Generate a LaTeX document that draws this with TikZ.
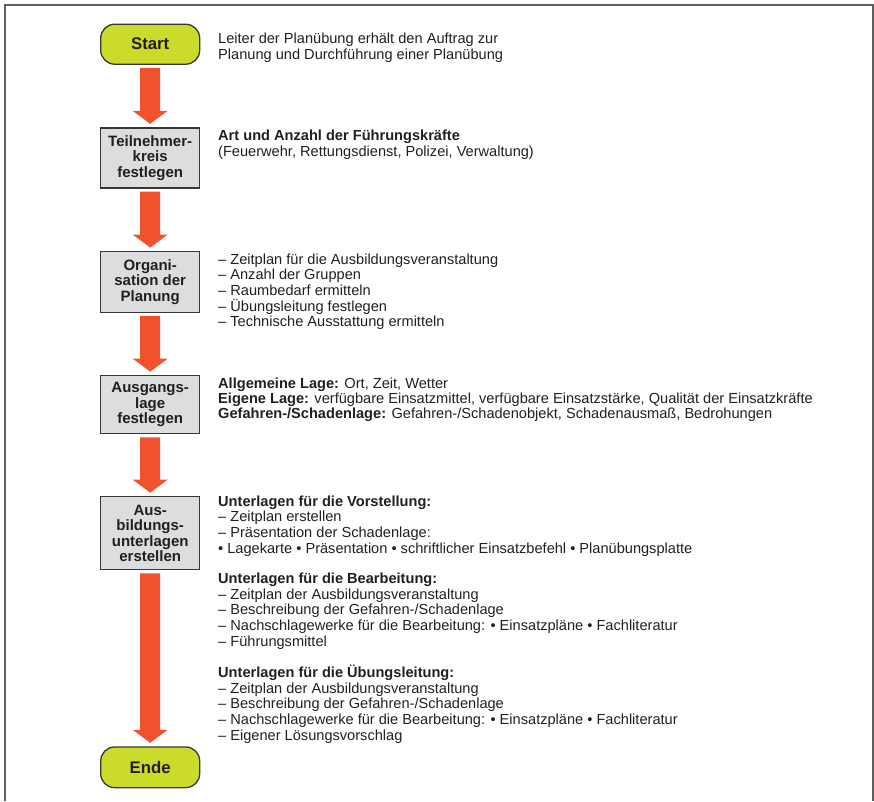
\documentclass[tikz,border=0pt]{standalone}
\usepackage{fontspec}
\setmainfont{Liberation Sans}
\usetikzlibrary{calc}
\definecolor{limec}{RGB}{203,219,42}
\definecolor{boxgray}{RGB}{220,221,222}
\definecolor{edgec}{RGB}{55,55,55}
\definecolor{arrowc}{RGB}{240,82,45}
\definecolor{txt}{RGB}{35,31,32}
\definecolor{framec}{RGB}{95,95,95}
\newcommand\flowarrow[2]{\fill[arrowc] ($(#1.south)+(-10,3)$) -- ($(#2.north)+(-10,-16.5)$) -- ($(#2.north)+(-17.5,-16.5)$) -- ($(#2.north)+(0,-3.5)$) -- ($(#2.north)+(17.5,-16.5)$) -- ($(#2.north)+(10,-16.5)$) -- ($(#1.south)+(10,3)$) -- cycle;}
\begin{document}
\begin{tikzpicture}[x=1pt,y=-1pt,
 term/.style={draw=edgec, line width=1.3pt, fill=limec, rounded corners=14pt, minimum width=99pt, minimum height=40pt, inner sep=0pt, font=\fontsize{16.8}{17}\selectfont\bfseries, text=txt},
 stepbox/.style={draw=edgec, line width=1.3pt, fill=boxgray, minimum width=99pt, inner sep=0pt, align=center, font=\fontsize{15}{15.4}\selectfont\bfseries, text=txt},
 desc/.style={anchor=base west, inner sep=0pt, align=left, font=\fontsize{14.6}{15.7}\selectfont, text=txt},
 frameline/.style={draw=framec, line width=1.8pt}]
\useasboundingbox (0,0) rectangle (874,801);
\draw[frameline] (5,801) -- (5,5) -- (873,5) -- (873,801);

\node[term] (start) at (150.2,44.2) {Start};
\node[stepbox, minimum height=60pt] (t1) at (150.2,158) {Teilnehmer-\\kreis\\festlegen};
\node[stepbox, minimum height=60.5pt] (t2) at (150.2,282) {Organi-\\sation der\\Planung};
\node[stepbox, minimum height=58pt] (t3) at (150.2,404.8) {Ausgangs-\\lage\\festlegen};
\node[stepbox, minimum height=73pt] (t4) at (150.2,533.3) {Aus-\\bildungs-\\unterlagen\\erstellen};
\node[term, minimum height=40.7pt] (ende) at (150.2,767.3) {Ende};

\flowarrow{start}{t1}
\flowarrow{t1}{t2}
\flowarrow{t2}{t3}
\flowarrow{t3}{t4}
\flowarrow{t4}{ende}

% anchors are placed at the baseline of the LAST line of each block
\node[desc] (d0) at (218,59.6) {Leiter der Planübung erhält den Auftrag zur\\Planung und Durchführung einer Planübung};
\node[desc] (d1) at (218,156) {\textbf{Art und Anzahl der Führungskräfte}\\(Feuerwehr, Rettungsdienst, Polizei, Verwaltung)};
\node[desc] (d2) at (218,326.8) {– Zeitplan für die Ausbildungsveranstaltung\\– Anzahl der Gruppen\\– Raumbedarf ermitteln\\– Übungsleitung festlegen\\– Technische Ausstattung ermitteln};
\node[desc, font=\fontsize{14.6}{15.2}\selectfont] (d3) at (218,418.7) {\textbf{Allgemeine Lage:} Ort, Zeit, Wetter\\\textbf{Eigene Lage:} verfügbare Einsatzmittel, verfügbare Einsatzstärke, Qualität der Einsatzkräfte\\\textbf{Gefahren-/Schadenlage:} Gefahren-/Schadenobjekt, Schadenausmaß, Bedrohungen};
\node[desc] (d4a) at (218,553.2) {\textbf{Unterlagen für die Vorstellung:}\\– Zeitplan erstellen\\– Präsentation der Schadenlage:\\• Lagekarte • Präsentation • schriftlicher Einsatzbefehl • Planübungsplatte};
\node[desc] (d4b) at (218,646.1) {\textbf{Unterlagen für die Bearbeitung:}\\– Zeitplan der Ausbildungsveranstaltung\\– Beschreibung der Gefahren-/Schadenlage\\– Nachschlagewerke für die Bearbeitung: • Einsatzpläne • Fachliteratur\\– Führungsmittel};
\node[desc] (d4c) at (218,740.3) {\textbf{Unterlagen für die Übungsleitung:}\\– Zeitplan der Ausbildungsveranstaltung\\– Beschreibung der Gefahren-/Schadenlage\\– Nachschlagewerke für die Bearbeitung: • Einsatzpläne • Fachliteratur\\– Eigener Lösungsvorschlag};
\end{tikzpicture}
\end{document}
